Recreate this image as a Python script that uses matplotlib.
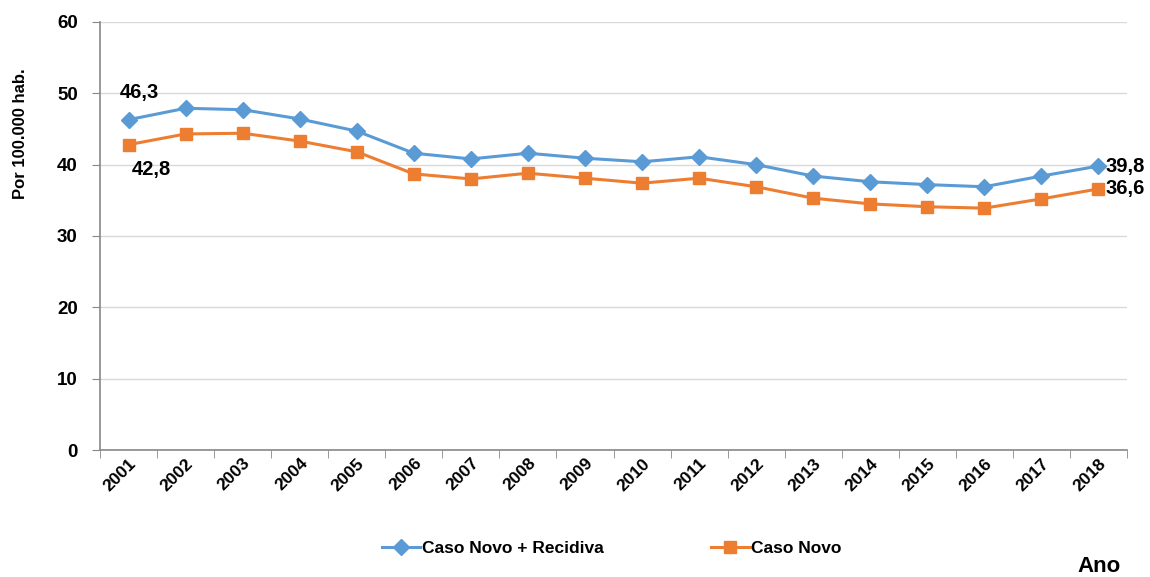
import matplotlib
matplotlib.use("Agg")
import matplotlib.pyplot as plt
import numpy as np

plt.rcParams["font.family"] = ["Liberation Sans", "DejaVu Sans"]

years = [str(y) for y in range(2001, 2019)]
novo_recidiva = [46.3, 47.9, 47.7, 46.4, 44.7, 41.6, 40.8, 41.6, 40.9, 40.4,
                 41.1, 40.0, 38.4, 37.6, 37.2, 36.9, 38.4, 39.8]
novo = [42.8, 44.3, 44.4, 43.3, 41.8, 38.7, 38.0, 38.8, 38.1, 37.4,
        38.1, 36.9, 35.3, 34.5, 34.1, 33.9, 35.2, 36.6]

blue = "#5b9bd5"
orange = "#ed7d31"

fig = plt.figure(figsize=(11.5, 5.77), dpi=100)
ax = fig.add_axes([0.087, 0.22, 0.893, 0.742])

x = np.arange(len(years))
ax.plot(x, novo_recidiva, color=blue, lw=2.2, marker="D", ms=8,
        label="Caso Novo + Recidiva")
ax.plot(x, novo, color=orange, lw=2.2, marker="s", ms=8, label="Caso Novo")

ax.set_xlim(-0.5, len(years) - 0.5)
ax.set_ylim(0, 60)
ax.set_yticks(range(0, 61, 10))
ax.set_yticklabels([str(v) for v in range(0, 61, 10)], fontsize=13.5, fontweight="bold")
ax.tick_params(axis="y", length=6, color="#888888", pad=10)

ax.set_xticks(x)
ax.set_xticklabels(years, rotation=45, ha="right", rotation_mode="anchor",
                   fontsize=12.5, fontweight="bold")
ax.tick_params(axis="x", which="major", length=0, pad=4)
ax.set_xticks(np.arange(-0.5, len(years), 1), minor=True)
ax.tick_params(axis="x", which="minor", length=6, color="#888888", direction="out")

ax.grid(axis="y", color="#d9d9d9", lw=1)
ax.set_axisbelow(True)
for s in ["top", "right"]:
    ax.spines[s].set_visible(False)
ax.spines["left"].set_color("#888888")
ax.spines["bottom"].set_color("#888888")
ax.spines["left"].set_linewidth(1.2)
ax.spines["bottom"].set_linewidth(1.2)

ax.set_ylabel("Por 100.000 hab.", fontsize=12, fontweight="bold")
ax.yaxis.set_label_coords(-0.07, 0.74)

# data labels
lbl = dict(textcoords="offset points", fontsize=14.5, fontweight="bold", ha="left")
ax.annotate(f"{novo_recidiva[0]:.1f}".replace(".", ","), (x[0], novo_recidiva[0]),
            xytext=(-6, 13), va="bottom", **lbl)
ax.annotate(f"{novo[0]:.1f}".replace(".", ","), (x[0], novo[0]),
            xytext=(2, -11), va="top", **lbl)
ax.annotate(f"{novo_recidiva[-1]:.1f}".replace(".", ","), (x[-1], novo_recidiva[-1]),
            xytext=(5, 0), va="center", **lbl)
ax.annotate(f"{novo[-1]:.1f}".replace(".", ","), (x[-1], novo[-1]),
            xytext=(5, 0), va="center", **lbl)

fig.legend(loc="center", bbox_to_anchor=(0.532, 0.05), ncol=2, frameon=False,
           handlelength=2.2, columnspacing=6.2, handletextpad=0.1,
           prop={"weight": "bold", "size": 12.5})

fig.text(0.956, 0.019, "Ano", fontsize=16, fontweight="bold", ha="center", va="center")

fig.savefig("out.png", dpi=100)
